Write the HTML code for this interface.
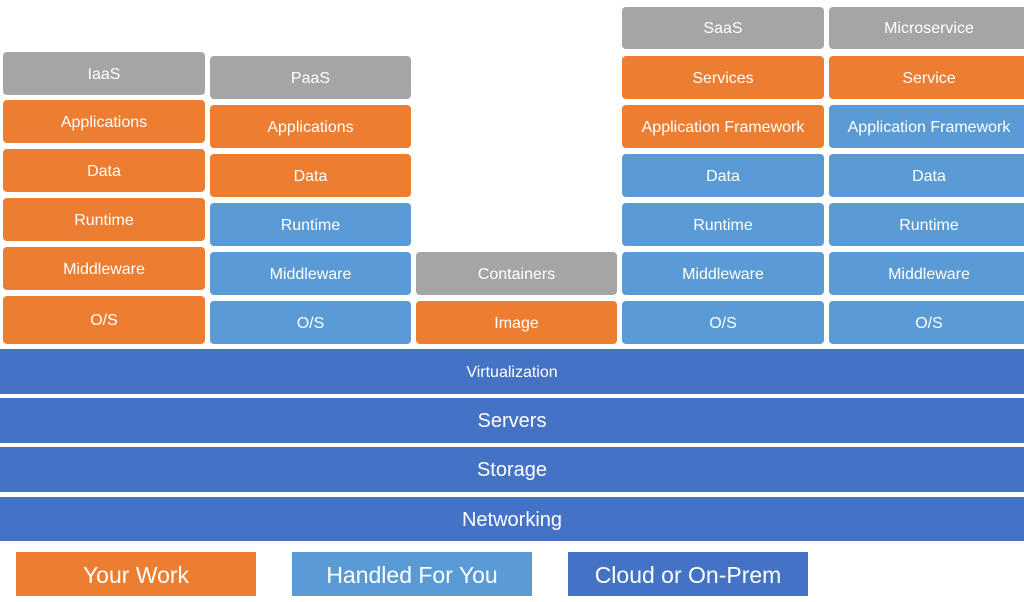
<!DOCTYPE html>
<html><head><meta charset="utf-8"><style>
body{margin:0;width:1024px;height:602px;background:#fff;position:relative;overflow:hidden;font-family:"Liberation Sans",sans-serif}
.b{position:absolute;color:#fff;display:flex;align-items:center;justify-content:center;border-radius:4px;font-size:16px;white-space:nowrap;box-sizing:border-box;padding-top:2px}
.o{background:#ED7D31}.l{background:#5B9BD5}.g{background:#A5A5A5}.d{background:#4472C4;border-radius:0}
</style></head><body>
<div class="b g" style="left:3px;top:52px;width:202px;height:43px">IaaS</div>
<div class="b o" style="left:3px;top:100px;width:202px;height:43px">Applications</div>
<div class="b o" style="left:3px;top:149px;width:202px;height:43px">Data</div>
<div class="b o" style="left:3px;top:198px;width:202px;height:43px">Runtime</div>
<div class="b o" style="left:3px;top:247px;width:202px;height:43px">Middleware</div>
<div class="b o" style="left:3px;top:296px;width:202px;height:48px">O/S</div>
<div class="b g" style="left:210px;top:56px;width:201px;height:43px">PaaS</div>
<div class="b o" style="left:210px;top:105px;width:201px;height:43px">Applications</div>
<div class="b o" style="left:210px;top:154px;width:201px;height:43px">Data</div>
<div class="b l" style="left:210px;top:203px;width:201px;height:43px">Runtime</div>
<div class="b l" style="left:210px;top:252px;width:201px;height:43px">Middleware</div>
<div class="b l" style="left:210px;top:301px;width:201px;height:43px">O/S</div>
<div class="b g" style="left:416px;top:252px;width:201px;height:43px">Containers</div>
<div class="b o" style="left:416px;top:301px;width:201px;height:43px">Image</div>
<div class="b g" style="left:622px;top:7px;width:202px;height:42px">SaaS</div>
<div class="b o" style="left:622px;top:56px;width:202px;height:43px">Services</div>
<div class="b o" style="left:622px;top:105px;width:202px;height:43px">Application Framework</div>
<div class="b l" style="left:622px;top:154px;width:202px;height:43px">Data</div>
<div class="b l" style="left:622px;top:203px;width:202px;height:43px">Runtime</div>
<div class="b l" style="left:622px;top:252px;width:202px;height:43px">Middleware</div>
<div class="b l" style="left:622px;top:301px;width:202px;height:43px">O/S</div>
<div class="b g" style="left:829px;top:7px;width:200px;height:42px">Microservice</div>
<div class="b o" style="left:829px;top:56px;width:200px;height:43px">Service</div>
<div class="b l" style="left:829px;top:105px;width:200px;height:43px">Application Framework</div>
<div class="b l" style="left:829px;top:154px;width:200px;height:43px">Data</div>
<div class="b l" style="left:829px;top:203px;width:200px;height:43px">Runtime</div>
<div class="b l" style="left:829px;top:252px;width:200px;height:43px">Middleware</div>
<div class="b l" style="left:829px;top:301px;width:200px;height:43px">O/S</div>
<div class="b d" style="left:0;top:349px;width:1024px;height:45px">Virtualization</div>
<div class="b d" style="left:0;top:398px;width:1024px;height:45px;font-size:20px">Servers</div>
<div class="b d" style="left:0;top:447px;width:1024px;height:45px;font-size:20px">Storage</div>
<div class="b d" style="left:0;top:497px;width:1024px;height:44px;font-size:20px">Networking</div>
<div class="b o" style="left:16px;top:552px;width:240px;height:44px;font-size:23px;border-radius:0">Your Work</div>
<div class="b l" style="left:292px;top:552px;width:240px;height:44px;font-size:23px;border-radius:0">Handled For You</div>
<div class="b d" style="left:568px;top:552px;width:240px;height:44px;font-size:23px">Cloud or On-Prem</div>
</body></html>
